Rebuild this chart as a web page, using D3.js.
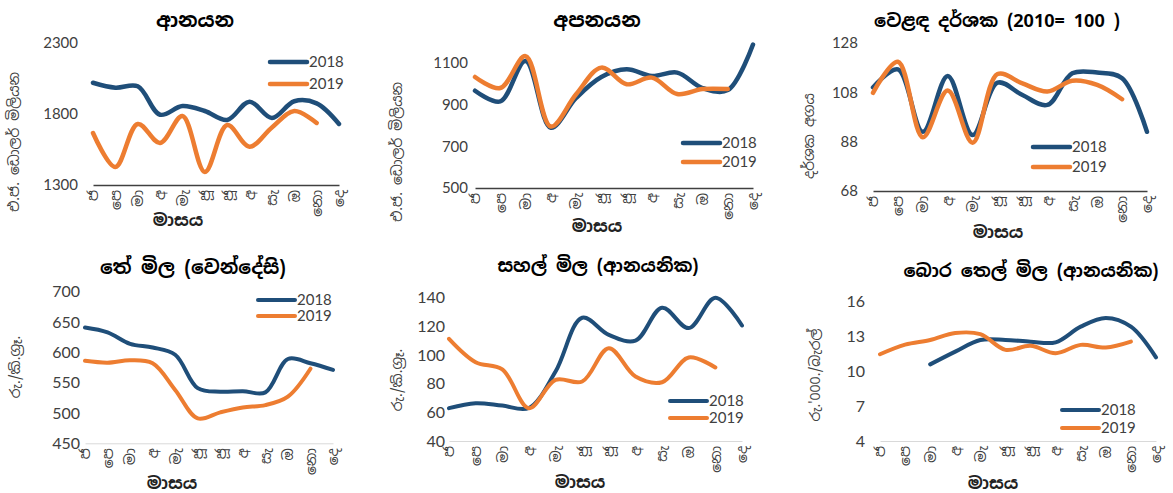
<!DOCTYPE html>
<html>
<head>
<meta charset="utf-8">
<script src="https://cdn.jsdelivr.net/npm/d3@7"></script>
<style>
  html, body { margin: 0; padding: 0; background: #fff; }
  svg { display: block; }
  .num { font-family: Lato, "Open Sans", "Noto Sans", sans-serif; }
  .si  { font-family: "Noto Sans Sinhala", "Iskoola Pota", "Noto Sans", sans-serif; }
</style>
</head>
<body>
<svg id="chart" width="1173" height="493"></svg>
<script>
// ---------- data ----------
const months = ["ජ", "පෙ", "මා", "අ", "මැ", "ජූ", "ජූ", "අ", "සැ", "ඔ", "නො", "දෙ"];
const seriesNames = ["2018", "2019"];

const importsTitle = "ආනයන";
const importsTicks = [1300, 1800, 2300];
const imports2018 = [2020, 1985, 1995, 1795, 1856, 1821, 1758, 1887, 1772, 1890, 1875, 1730];
const imports2019 = [1666, 1427, 1730, 1596, 1786, 1392, 1722, 1570, 1705, 1821, 1737, null];

const exportsTitle = "අපනයන";
const exportsTicks = [500, 700, 900, 1100];
const exports2018 = [967, 916, 1110, 789, 932, 1033, 1070, 1038, 1054, 980, 970, 1189];
const exports2019 = [1033, 980, 1133, 795, 950, 1078, 998, 1030, 951, 975, 975, null];

const totTitle = "වෙළඳ දර්ශක (2010= 100 )";
const totTicks = [68, 88, 108, 128];
const tot2018 = [110, 117.3, 92, 114.6, 90.7, 111.9, 106.9, 102.9, 115.7, 116, 113.7, 92];
const tot2019 = [107.8, 120.4, 89.8, 108.7, 87.6, 115.4, 111.6, 108.3, 112.7, 111, 105.2, null];

const teaTitle = "තේ මිල  (වෙන්දේසි)";
const teaTicks = [450, 500, 550, 600, 650, 700];
const tea2018 = [641, 633, 614, 608, 596, 541, 535, 536, 534, 589, 582, 571];
const tea2019 = [586, 583, 587, 582, 538, 491, 501, 509, 513, 527, 573, null];

const riceTitle = "සහල් මිල (ආනයනික)";
const riceTicks = [40, 60, 80, 100, 120, 140];
const rice2018 = [62.9, 66.4, 64.7, 63, 88.5, 126, 114, 110, 133, 118.8, 140, 120.6];
const rice2019 = [111.3, 95, 90, 62.9, 82.7, 81.5, 104.8, 85, 81, 98.3, 91.3, null];

const oilTitle = "බොර තෙල් මිල (ආනයනික)";
const oilTicks = [4, 7, 10, 13, 16];
const oil2018 = [null, null, 10.6, 11.7, 12.7, 12.7, 12.56, 12.5, 13.85, 14.6, 13.85, 11.2];
const oil2019 = [11.47, 12.3, 12.7, 13.3, 13.2, 11.85, 12.2, 11.56, 12.28, 12.05, 12.56, null];

const yTitleUSD = "එ.ජ. ඩොලර් මිලියන";
const yTitleIndex = "දර්ශක අගය";
const yTitleRsKg = "රු./කි.ග්‍රෑ.";
const yTitleRsBarrel = "රු.'000./බැරල්";
const xTitle = "මාසය";

// ---------- layout / style ----------
const colors = ["#1F4E79", "#ED7D31"];
const panels = [
  { title: importsTitle, ticks: importsTicks, s: [imports2018, imports2019], domain: [1300, 2300],
    x0: 93, x1: 339, yb: 185, yt: 43, tickGap: 15, titleX: 195, titleY: 27, tfs: 20, fs: 15,
    yTitle: yTitleUSD, ytX: 14, ytY: 142, xtX: 178, xtY: 226, leg: [270, 62, 84],
    axisColor: "#404040", axisW: 1.6, lw: 4.5 },
  { title: exportsTitle, ticks: exportsTicks, s: [exports2018, exports2019], domain: [500, 1200],
    x0: 475, x1: 753, yb: 188, yt: 42.2, tickGap: 7, titleX: 597, titleY: 27, tfs: 20, fs: 15,
    yTitle: yTitleUSD, ytX: 397, ytY: 152, xtX: 597, xtY: 232, leg: [683, 143, 162],
    axisColor: "#404040", axisW: 1.6, lw: 4.5 },
  { title: totTitle, ticks: totTicks, s: [tot2018, tot2019], domain: [68, 128],
    x0: 873, x1: 1147, yb: 191, yt: 43, tickGap: 15, titleX: 997, titleY: 27, tfs: 18, fs: 15,
    yTitle: yTitleIndex, ytX: 809, ytY: 136, xtX: 998, xtY: 238, leg: [1033, 147, 167],
    axisColor: "#404040", axisW: 1.6, lw: 4.5 },
  { title: teaTitle, ticks: teaTicks, s: [tea2018, tea2019], domain: [450, 700],
    x0: 85, x1: 333, yb: 443.3, yt: 291.7, tickGap: 5, titleX: 193, titleY: 274, tfs: 19, fs: 16,
    yTitle: yTitleRsKg, ytX: 15, ytY: 367, xtX: 172, xtY: 489, leg: [258, 300, 316],
    axisColor: "#d9d9d9", axisW: 1, lw: 4 },
  { title: riceTitle, ticks: riceTicks, s: [rice2018, rice2019], domain: [40, 140],
    x0: 449, x1: 742, yb: 441, yt: 297.7, tickGap: 4, titleX: 598, titleY: 272, tfs: 18, fs: 16,
    yTitle: yTitleRsKg, ytX: 397, ytY: 380, xtX: 580, xtY: 488, leg: [670, 401, 418],
    axisColor: "#d9d9d9", axisW: 1, lw: 4 },
  { title: oilTitle, ticks: oilTicks, s: [oil2018, oil2019], domain: [4, 16],
    x0: 880, x1: 1156, yb: 441, yt: 301.7, tickGap: 15, titleX: 1031, titleY: 277, tfs: 18, fs: 16,
    yTitle: yTitleRsBarrel, ytX: 815, ytY: 375, xtX: 993, xtY: 489, leg: [1062, 410, 428],
    axisColor: "#d9d9d9", axisW: 1, lw: 4 }
];

const svg = d3.select("#chart");

panels.forEach(p => {
  const g = svg.append("g");
  const x = d3.scalePoint().domain(d3.range(months.length)).range([p.x0, p.x1]);
  const y = d3.scaleLinear().domain(p.domain).range([p.yb, p.yt]);

  // title
  g.append("text").attr("class", "si")
    .attr("x", p.titleX).attr("y", p.titleY)
    .attr("text-anchor", "middle")
    .attr("font-size", p.tfs).attr("font-weight", "bold").attr("fill", "#000")
    .text(p.title);

  // y axis (labels only)
  const ya = g.append("g").attr("transform", `translate(${p.x0},0)`)
    .call(d3.axisLeft(y).tickValues(p.ticks).tickSize(0).tickPadding(p.tickGap).tickFormat(d3.format("d")));
  ya.select(".domain").remove();
  ya.selectAll("text").attr("class", "num").attr("font-size", p.fs).attr("fill", "#404040");

  // x axis
  const xa = g.append("g").attr("transform", `translate(0,${p.yb})`)
    .call(d3.axisBottom(x).tickSize(0).tickFormat(i => months[i]));
  xa.select(".domain").attr("stroke", p.axisColor).attr("stroke-width", p.axisW);
  xa.selectAll("text").attr("class", "si")
    .attr("font-size", 14).attr("fill", "#404040")
    .attr("y", 0).attr("x", -5).attr("dy", "0.35em")
    .attr("transform", "rotate(-90)")
    .attr("text-anchor", "end");

  // axis titles
  g.append("text").attr("class", "si")
    .attr("transform", `translate(${p.ytX},${p.ytY}) rotate(-90)`)
    .attr("text-anchor", "middle").attr("dy", "0.35em")
    .attr("font-size", 14).attr("fill", "#404040")
    .text(p.yTitle);
  g.append("text").attr("class", "si")
    .attr("x", p.xtX).attr("y", p.xtY)
    .attr("text-anchor", "middle")
    .attr("font-size", 17).attr("font-weight", "bold").attr("fill", "#222")
    .text(xTitle);

  // lines
  const line = d3.line()
    .defined(d => d != null)
    .x((d, i) => x(i))
    .y(d => y(d))
    .curve(d3.curveCatmullRom);
  p.s.forEach((vals, k) => {
    g.append("path")
      .datum(vals)
      .attr("fill", "none")
      .attr("stroke", colors[k])
      .attr("stroke-width", p.lw)
      .attr("stroke-linecap", "round")
      .attr("stroke-linejoin", "round")
      .attr("d", line);
  });

  // legend
  seriesNames.forEach((name, k) => {
    const ly = p.leg[1 + k];
    g.append("line")
      .attr("x1", p.leg[0]).attr("x2", p.leg[0] + 37)
      .attr("y1", ly).attr("y2", ly)
      .attr("stroke", colors[k]).attr("stroke-width", p.lw).attr("stroke-linecap", "round");
    g.append("text").attr("class", "num")
      .attr("x", p.leg[0] + 39).attr("y", ly).attr("dy", "0.35em")
      .attr("font-size", 15).attr("fill", "#404040")
      .text(name);
  });
});
</script>
</body>
</html>
